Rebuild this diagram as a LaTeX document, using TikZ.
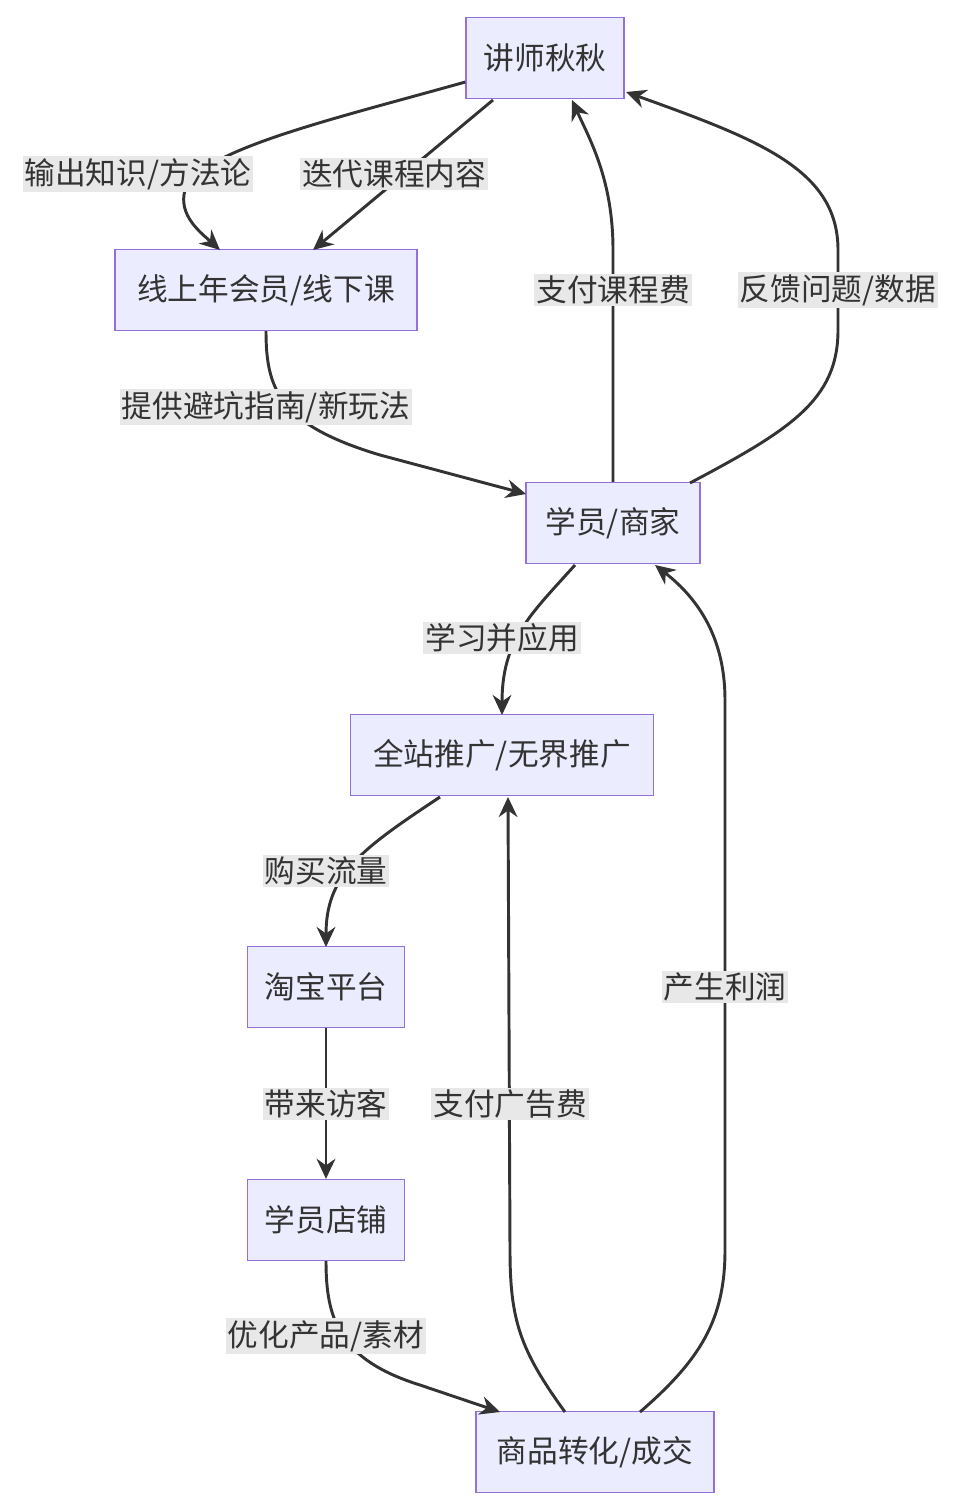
\documentclass[tikz,border=0pt]{standalone}
\usepackage{fontspec}
\setmainfont{Noto Sans CJK SC}
\usetikzlibrary{arrows.meta}
\definecolor{boxfill}{HTML}{ECECFF}
\definecolor{boxline}{HTML}{9370DB}
\definecolor{ink}{HTML}{333333}
\definecolor{labfill}{HTML}{E8E8E8}
\begin{document}
\begin{tikzpicture}[x=0.75pt, y=-0.75pt, >={Stealth[length=15pt,width=14pt]},
    box/.style={draw=boxline, fill=boxfill, line width=1pt, minimum height=60.75pt, text=ink, font=\fontsize{23}{26}\selectfont},
    flow/.style={->, draw=ink, line width=2.2pt},
    lab/.style={fill=labfill, text=ink, inner sep=1.5pt, font=\fontsize{23}{26}\selectfont}]
    \useasboundingbox (0,0) rectangle (960,1510);

    % Nodes
    \node[box, minimum width=118.5pt] (teacher) at (545,58) {讲师秋秋};
    \node[box, minimum width=226.5pt] (course) at (266,290) {线上年会员/线下课};
    \node[box, minimum width=130.5pt] (student) at (613,523) {学员/商家};
    \node[box, minimum width=227pt] (promo) at (502,755) {全站推广/无界推广};
    \node[box, minimum width=118pt] (taobao) at (326,987) {淘宝平台};
    \node[box, minimum width=118pt] (shop) at (326,1220) {学员店铺};
    \node[box, minimum width=178.5pt] (deal) at (595,1452) {商品转化/成交};

    % Edges
    \draw[flow] (teacher.west |- 0,82) .. controls (330,120) and (200,150) .. (185,190)
        .. controls (178,215) and (200,232) .. (220,250);
    \node[lab] (l1) at (138,174) {输出知识/方法论};
    \draw[flow] (493,100) -- (313,250);
    \node[lab] (l2) at (394,174) {迭代课程内容};
    \draw[flow] (course.south) .. controls (266,390) and (280,425) .. (380,455)
        -- (526,494);
    \node[lab] (l3) at (266,407) {提供避坑指南/新玩法};
    \draw[flow] (student.north) -- (613,250) .. controls (613,180) and (590,140) .. (572,100);
    \node[lab] (l4) at (613,290) {支付课程费};
    \draw[flow] (690,483) .. controls (790,430) and (838,400) .. (838,330)
        -- (838,250) .. controls (838,170) and (760,140) .. (626,92);
    \node[lab] (l5) at (838,290) {反馈问题/数据};
    \draw[flow] (575,565) .. controls (530,615) and (502,640) .. (502,715);
    \node[lab] (l6) at (502,638) {学习并应用};
    \draw[flow] (440,797) .. controls (360,850) and (326,875) .. (326,947);
    \node[lab] (l7) at (326,871) {购买流量};
    \draw[flow] (taobao.south) -- (shop.north);
    \node[lab] (l8) at (326,1104) {带来访客};
    \draw[flow] (shop.south) .. controls (326,1320) and (340,1360) .. (420,1385) -- (500,1412);
    \node[lab] (l9) at (326,1336) {优化产品/素材};
    \draw[flow] (565,1412) .. controls (520,1350) and (510,1320) .. (510,1250) -- (508,797);
    \node[lab] (l10) at (510,1104) {支付广告费};
    \draw[flow] (640,1412) .. controls (700,1360) and (725,1320) .. (725,1250)
        -- (725,700) .. controls (725,640) and (700,600) .. (655,565);
    \node[lab] (l11) at (725,987) {产生利润};
\end{tikzpicture}
\end{document}
